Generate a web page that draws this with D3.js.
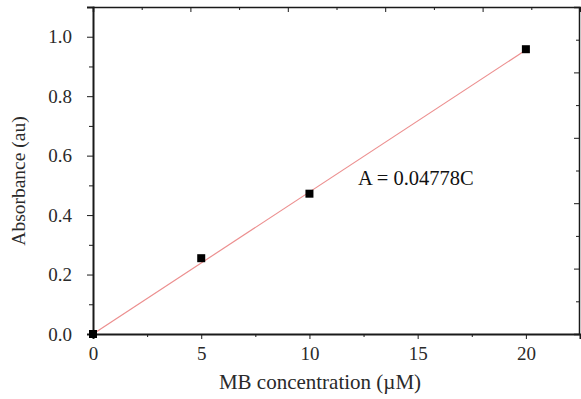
<!DOCTYPE html>
<html>
<head>
<meta charset="utf-8">
<script src="https://cdn.jsdelivr.net/npm/d3@7.9.0/dist/d3.min.js"></script>
<style>
  html, body { margin: 0; padding: 0; background: #fff; }
  svg { display: block; }
  .axis path, .axis line { stroke: #1a1a1a; }
  .axis text { fill: #2a2a2a; }
</style>
</head>
<body>
<svg id="chart" width="581" height="399"></svg>
<script>
// measured points
const concentration = [0, 5, 10, 20];
const absorbance = [0, 0.255, 0.472, 0.958];
const slope = 0.04778;
const fitLabel = 'A = 0.04778C';

const xMajor = [0, 5, 10, 15, 20];
const xMinor = [2.5, 7.5, 12.5, 17.5];
const yMajor = [0, 0.2, 0.4, 0.6, 0.8, 1.0];
const yMinor = [0.1, 0.3, 0.5, 0.7, 0.9];

const serif = "'Liberation Serif', 'Times New Roman', Times, serif";

const width = 581, height = 399;
const margin = { top: 7, right: 1, bottom: 65, left: 93 };

const svg = d3.select('#chart').attr('font-family', serif);

const x = d3.scaleLinear().domain([0, 22.5]).range([margin.left, width - margin.right]);
const y = d3.scaleLinear().domain([0, 1.1]).range([height - margin.bottom, margin.top]);

// frame scales for the top / right edges (10 divisions each)
const fx = d3.scaleLinear().domain([0, 10]).range([margin.left, width - margin.right]);
const fy = d3.scaleLinear().domain([0, 10]).range([height - margin.bottom, margin.top]);

function styleAxis(g) {
  g.attr('font-family', serif).attr('font-size', 19);
}

// bottom axis
svg.append('g').attr('class', 'axis')
  .attr('transform', `translate(0,${y(0)})`)
  .call(d3.axisBottom(x).tickValues(xMajor).tickSize(5).tickPadding(8).tickFormat(d3.format('d')))
  .call(styleAxis)
  .call(g => g.select('.domain').attr('stroke-width', 2));
svg.append('g').attr('class', 'axis')
  .attr('transform', `translate(0,${y(0)})`)
  .call(d3.axisBottom(x).tickValues(xMinor).tickSize(3).tickFormat(''))
  .call(g => g.select('.domain').remove());

// left axis
svg.append('g').attr('class', 'axis')
  .attr('transform', `translate(${x(0)},0)`)
  .call(d3.axisLeft(y).tickValues(yMajor).tickSize(6).tickPadding(15).tickFormat(d3.format('.1f')))
  .call(styleAxis)
  .call(g => g.select('.domain').attr('stroke-width', 2));
svg.append('g').attr('class', 'axis')
  .attr('transform', `translate(${x(0)},0)`)
  .call(d3.axisLeft(y).tickValues(yMinor).tickSize(4).tickFormat(''))
  .call(g => g.select('.domain').remove());

// top frame, ticks inward
const frameTicks = d3.range(0, 11);
svg.append('g').attr('class', 'axis')
  .attr('transform', `translate(0,${margin.top})`)
  .call(d3.axisBottom(fx).tickValues(frameTicks.filter(d => d % 2 === 0 && d < 10)).tickSize(5).tickFormat(''))
  .call(g => g.select('.domain').attr('stroke-width', 1.5));
svg.append('g').attr('class', 'axis')
  .attr('transform', `translate(0,${margin.top})`)
  .call(d3.axisBottom(fx).tickValues(frameTicks.filter(d => d % 2 === 1)).tickSize(3).tickFormat(''))
  .call(g => g.select('.domain').remove());

// right frame, ticks inward
svg.append('g').attr('class', 'axis')
  .attr('transform', `translate(${width - margin.right - 1},0)`)
  .call(d3.axisLeft(fy).tickValues(frameTicks.filter(d => d % 2 === 0 && d > 0 && d < 10)).tickSize(5).tickFormat(''))
  .call(g => g.select('.domain').attr('stroke-width', 1.5));
svg.append('g').attr('class', 'axis')
  .attr('transform', `translate(${width - margin.right - 1},0)`)
  .call(d3.axisLeft(fy).tickValues(frameTicks.filter(d => d % 2 === 1)).tickSize(3).tickFormat(''))
  .call(g => g.select('.domain').remove());

// fit line
svg.append('line')
  .attr('x1', x(0)).attr('y1', y(0))
  .attr('x2', x(20)).attr('y2', y(slope * 20))
  .attr('stroke', '#ec8f8f')
  .attr('stroke-width', 1.2);

// points
const pts = concentration.map((c, i) => ({ c, a: absorbance[i] }));
svg.append('g')
  .selectAll('rect')
  .data(pts)
  .join('rect')
  .attr('x', d => x(d.c) - 4)
  .attr('y', d => y(d.a) - 4)
  .attr('width', 8)
  .attr('height', 8)
  .attr('fill', '#000');

// fit equation
svg.append('text')
  .attr('x', 358)
  .attr('y', y(0.5))
  .attr('font-size', 20.5)
  .attr('fill', '#111')
  .text(fitLabel);

// axis titles
svg.append('text')
  .attr('x', 320)
  .attr('y', 389)
  .attr('text-anchor', 'middle')
  .attr('font-size', 21)
  .attr('fill', '#2a2a2a')
  .text('MB concentration (\u00b5M)');

svg.append('text')
  .attr('transform', `translate(25,181) rotate(-90)`)
  .attr('text-anchor', 'middle')
  .attr('font-size', 19.5)
  .attr('fill', '#2a2a2a')
  .text('Absorbance (au)');
</script>
</body>
</html>
